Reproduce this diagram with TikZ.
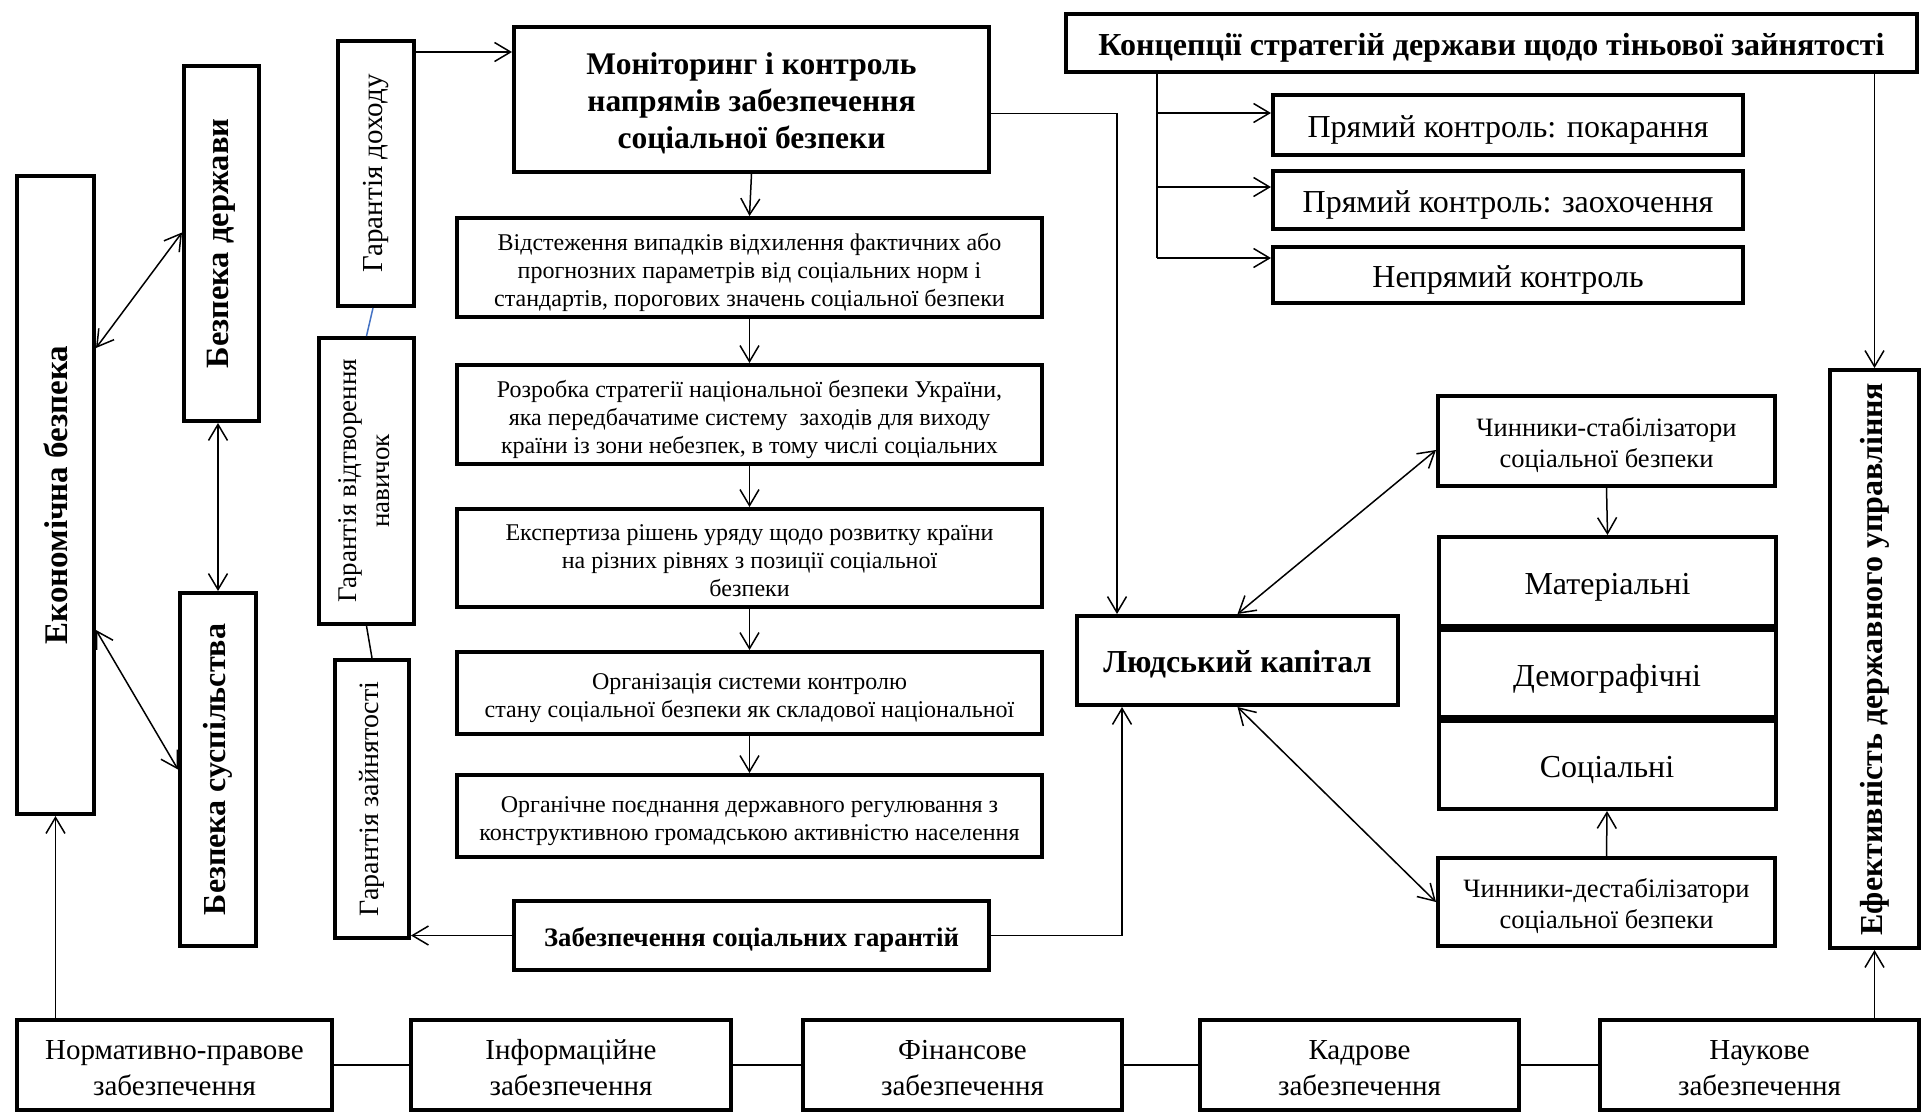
\documentclass[tikz,border=0pt]{standalone}
\usepackage{fontspec}
\setmainfont{Liberation Serif}
\usepackage{graphicx}
\usetikzlibrary{arrows.meta,calc}
\definecolor{linkblue}{HTML}{4472C4}
\newcommand{\lowtext}[1]{\raisebox{0pt}[\dimexpr\height+10pt\relax][\depth]{\begin{tabular}{@{}c@{}}#1\end{tabular}}}
\tikzset{
  bx/.style={draw, line width=4pt, fill=white, align=center, inner sep=1pt},
  conn/.style={line width=1.5pt},
  tip/.tip={Straight Barb[length=16pt,width=19pt,line width=1.5pt]},
  arr/.style={conn, -tip},
  darr/.style={conn, tip-tip},
  fB/.style={font=\fontsize{32}{37}\selectfont\bfseries},
  fM/.style={font=\fontsize{32}{38}\selectfont},
  fS/.style={font=\fontsize{24}{28}\selectfont},
  fC/.style={font=\fontsize{26.5}{31}\selectfont},
  fV/.style={font=\fontsize{28}{33}\selectfont},
  fL/.style={font=\fontsize{29}{36}\selectfont},
}
\begin{document}
\begin{tikzpicture}[x=1pt,y=-1pt]
\useasboundingbox (0,0) rectangle (1924,1114);
\fill[white] (0,0) rectangle (1924,1114);

% left vertical boxes
\node[bx,font=\fontsize{33}{38}\selectfont\bfseries,minimum width=77,minimum height=638] (ekon) at (55.5,495) {\rotatebox{90}{Економічна безпека}};
\node[bx,font=\fontsize{32.5}{38}\selectfont\bfseries,minimum width=75,minimum height=355] (bdz) at (221.5,243.5) {\rotatebox{90}{Безпека держави}};
\node[bx,font=\fontsize{32}{38}\selectfont\bfseries,minimum width=76,minimum height=353] (bsus) at (218,769.5) {\rotatebox{90}{Безпека суспільства}};

% guarantees
\node[bx,font=\fontsize{29}{34}\selectfont,minimum width=76,minimum height=265] (gdoh) at (376,173.5) {\rotatebox{90}{Гарантія доходу}};
\node[bx,font=\fontsize{27}{33}\selectfont,minimum width=95,minimum height=286] (gnav) at (366.5,481) {\rotatebox{90}{\begin{tabular}{@{}c@{}}Гарантія відтворення\\навичок\end{tabular}}};
\node[bx,fV,minimum width=74,minimum height=278] (gzan) at (372,799) {\rotatebox{90}{Гарантія зайнятості}};

% central column
\node[bx,font=\fontsize{31.5}{37}\selectfont\bfseries,minimum width=475,minimum height=145] (mon) at (751.5,99.5) {\lowtext{Моніторинг і контроль\\напрямів забезпечення\\соціальної безпеки}};
\node[bx,fS,minimum width=585,minimum height=99] (b1) at (749.5,267.5) {\lowtext{Відстеження випадків відхилення фактичних або\\прогнозних параметрів від соціальних норм і\\стандартів, порогових значень соціальної безпеки}};
\node[bx,fS,minimum width=585,minimum height=99] (b2) at (749.5,414.5) {\lowtext{Розробка стратегії національної безпеки України,\\яка передбачатиме систему\ \ заходів для виходу\\країни із зони небезпек, в тому числі соціальних}};
\node[bx,fS,minimum width=585,minimum height=98] (b3) at (749.5,558) {\lowtext{Експертиза рішень уряду щодо розвитку країни\\на різних рівнях з позиції соціальної\\безпеки}};
\node[bx,fS,minimum width=585,minimum height=82] (b4) at (749.5,693) {\lowtext{Організація системи контролю\\стану соціальної безпеки як складової національної}};
\node[bx,fS,minimum width=585,minimum height=82] (b5) at (749.5,816) {\lowtext{Органічне поєднання державного регулювання з\\конструктивною громадською активністю населення}};
\node[bx,font=\fontsize{26.7}{31}\selectfont\bfseries,minimum width=475,minimum height=69] (zsg) at (751.5,935.5) {\lowtext{Забезпечення соціальних гарантій}};

% top right
\node[bx,font=\fontsize{32}{37}\selectfont\bfseries,minimum width=851,minimum height=58] (konc) at (1491.5,43) {\lowtext{Концепції стратегій держави щодо тіньової зайнятості}};
\node[bx,fM,minimum width=470,minimum height=60] (p1) at (1508,124.5) {\lowtext{Прямий контроль: покарання}};
\node[bx,fM,minimum width=470,minimum height=58] (p2) at (1508,199.5) {\lowtext{Прямий контроль: заохочення}};
\node[bx,fM,minimum width=470,minimum height=56] (p3) at (1508,275) {\lowtext{Непрямий контроль}};

% right part
\node[bx,fB,minimum width=321,minimum height=89] (lk) at (1237.5,660.5) {\lowtext{Людський капітал}};
\node[bx,fC,minimum width=337,minimum height=90] (stab) at (1606.5,441) {\lowtext{Чинники-стабілізатори\\соціальної безпеки}};
\node[bx,fM,minimum width=337,minimum height=89] (mat) at (1607.5,581.5) {\lowtext{Матеріальні}};
\node[bx,fM,minimum width=337,minimum height=87] (dem) at (1607,673.5) {\lowtext{Демографічні}};
\node[bx,fM,minimum width=337,minimum height=88] (soc) at (1607,765) {\lowtext{Соціальні}};
\node[bx,fC,minimum width=337,minimum height=88] (dest) at (1606.5,902) {\lowtext{Чинники-дестабілізатори\\соціальної безпеки}};
\node[bx,fB,minimum width=89,minimum height=578] (ef) at (1874.5,659) {\rotatebox{90}{Ефективність державного управління}};

% bottom row
\node[bx,fL,minimum width=315,minimum height=90] (norm) at (174.5,1065) {\lowtext{Нормативно-правове\\забезпечення}};
\node[bx,fL,minimum width=320,minimum height=90] (inf) at (571,1065) {\lowtext{Інформаційне\\забезпечення}};
\node[bx,fL,minimum width=319,minimum height=90] (fin) at (962.5,1065) {\lowtext{Фінансове\\забезпечення}};
\node[bx,fL,minimum width=319,minimum height=90] (kad) at (1359.5,1065) {\lowtext{Кадрове\\забезпечення}};
\node[bx,fL,minimum width=319,minimum height=90] (nauk) at (1759.5,1065) {\lowtext{Наукове\\забезпечення}};

% coordinates
\coordinate (xA) at (1117,0);
\coordinate (xB) at (1122,0);
\coordinate (xK) at (1157,0);
\coordinate (q1) at ([yshift=11.5pt]p1.west);
\coordinate (q2) at ([yshift=12.5pt]p2.west);
\coordinate (q3) at ([yshift=17pt]p3.west);
\coordinate (g1) at ([yshift=-13pt]gdoh.north east);
\coordinate (m1) at ([yshift=-14pt]mon.east);

% left connectors
\draw[darr] ([yshift=147pt]ekon.east) -- ([yshift=11pt]bdz.west);
\draw[darr] ([yshift=-135pt]ekon.east) -- (bsus.west);
\draw[darr] (bsus.north) -- (bsus.north |- bdz.south);
\draw[arr] (norm.north -| ekon.south) -- (ekon.south);

% guarantees
\draw[conn,linkblue] ([xshift=-3pt]gdoh.south) -- (gnav.north);
\draw[conn] (gnav.south) -- (gzan.north);
\draw[arr] (g1) -- (g1 -| mon.west);
\draw[arr] (zsg.west) -- (zsg.west -| gzan.east);

% central chain
\draw[arr] (mon.south) -- (b1.north);
\draw[arr] (b1.south) -- (b2.north);
\draw[arr] (b2.south) -- (b3.north);
\draw[arr] (b3.south) -- (b4.north);
\draw[arr] (b4.south) -- (b5.north);

% to human capital
\draw[arr] (m1) -| (xA |- lk.north);
\draw[arr] (zsg.east) -| (xB |- lk.south);
\draw[darr] (lk.north) -- ([yshift=-9pt]stab.west);
\draw[darr] (lk.south) -- (dest.west);
\draw[arr] (stab.south) -- (mat.north);
\draw[arr] (dest.north) -- (soc.south);

% strategy branches
\draw[conn] (konc.south -| xK) -- (xK |- q3);
\draw[arr] (xK |- q1) -- (q1);
\draw[arr] (xK |- q2) -- (q2);
\draw[arr] (xK |- q3) -- (q3);
\draw[arr] (konc.south -| ef.north) -- (ef.north);
\draw[arr] (nauk.north -| ef.south) -- (ef.south);

% bottom row links
\draw[conn] (norm.east) -- (inf.west);
\draw[conn] (inf.east) -- (fin.west);
\draw[conn] (fin.east) -- (kad.west);
\draw[conn] (kad.east) -- (nauk.west);
\end{tikzpicture}
\end{document}
